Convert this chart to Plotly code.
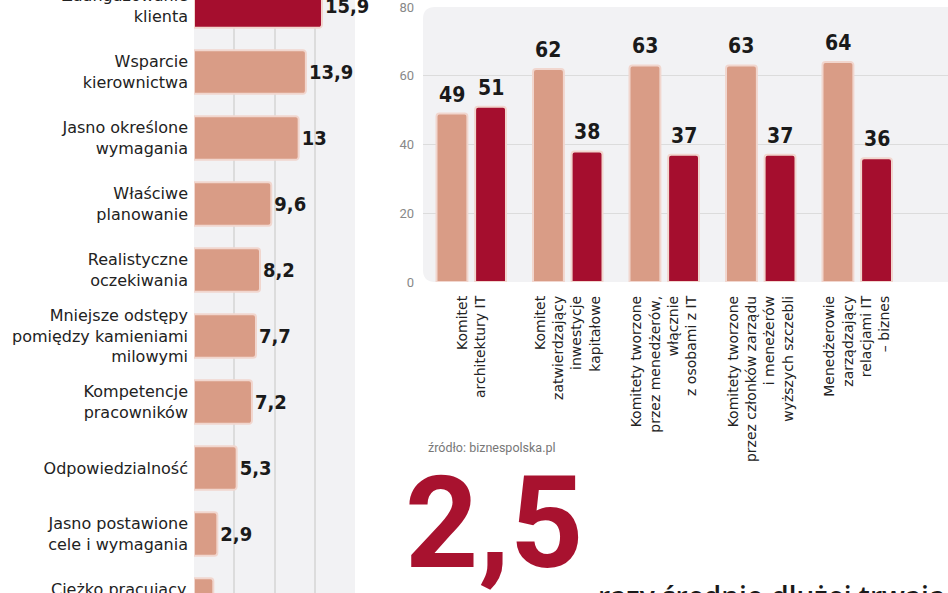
import plotly.graph_objects as go

# ---------------- data ----------------
left_labels = [
    "Zaangażowanie<br>klienta",
    "Wsparcie<br>kierownictwa",
    "Jasno określone<br>wymagania",
    "Właściwe<br>planowanie",
    "Realistyczne<br>oczekiwania",
    "Mniejsze odstępy<br>pomiędzy kamieniami<br>milowymi",
    "Kompetencje<br>pracowników",
    "Odpowiedzialność",
    "Jasno postawione<br>cele i wymagania",
    "Ciężko pracujący<br>zespół",
]
left_values = [15.9, 13.9, 13, 9.6, 8.2, 7.7, 7.2, 5.3, 2.9, 2.4]

right_categories = [
    "Komitet<br>architektury IT",
    "Komitet<br>zatwierdzający<br>inwestycje<br>kapitałowe",
    "Komitety tworzone<br>przez menedżerów,<br>włącznie<br>z osobami z IT",
    "Komitety tworzone<br>przez członków zarządu<br>i menеżerów<br>wyższych szczebli",
    "Menedżerowie<br>zarządzający<br>relacjami IT<br>– biznes",
]
series_a = [49, 62, 63, 63, 64]
series_b = [51, 38, 37, 37, 36]
right_ticks = [0, 20, 40, 60, 80]

source_text = "źródło: biznespolska.pl"
big_number = "2,5"
bottom_text = "razy średnio dłużej trwają projekty"

# ---------------- style ----------------
W, H = 948, 593
LIGHT = "#d99c86"
DARK = "#a50e2e"
EDGE = "#f1d6ce"
PANEL = "#f2f2f4"
VAL_FONT = "DejaVu Sans Condensed, Roboto"
LBL_FONT = "DejaVu Sans"

def fmt(v):
    return f"{v:g}".replace(".", ",")

left_idx = list(range(len(left_values)))
left_colors = [DARK] + [LIGHT] * (len(left_values) - 1)
n_shown = len(left_values) - 1  # last row lies below the visible area

fig = go.Figure()

fig.add_trace(go.Bar(
    x=left_values, y=left_idx, orientation="h", width=0.66,
    marker=dict(color=left_colors, line=dict(color=EDGE, width=2), cornerradius=3),
    text=[fmt(v) for v in left_values[:n_shown]] + [""], textposition="outside",
    textfont=dict(family=VAL_FONT, size=20, color="#1a1a1a", weight="bold"),
    constraintext="none", cliponaxis=False,
    xaxis="x", yaxis="y", showlegend=False, hoverinfo="skip",
))

right_idx = list(range(len(right_categories)))
fig.add_trace(go.Bar(
    x=right_idx, y=series_a,
    marker=dict(color=LIGHT, line=dict(color=EDGE, width=2), cornerradius=3),
    xaxis="x2", yaxis="y2", showlegend=False, hoverinfo="skip",
))
fig.add_trace(go.Bar(
    x=right_idx, y=series_b,
    marker=dict(color=DARK, line=dict(color=EDGE, width=2), cornerradius=3),
    xaxis="x2", yaxis="y2", showlegend=False, hoverinfo="skip",
))

annotations = []
for i, (a, b) in enumerate(zip(series_a, series_b)):
    for v, dx in ((a, -19.3), (b, 19.3)):
        annotations.append(dict(
            x=i, y=v, xref="x2", yref="y2", xshift=dx, yshift=5,
            text=str(v), showarrow=False, yanchor="bottom", xanchor="center",
            font=dict(family=VAL_FONT, size=21, color="#1a1a1a", weight="bold"),
        ))

# last (cut) left row: its centre lies just below the canvas
y_last_px = 6 + 66 * left_idx[-1]
annotations.append(dict(
    x=0, y=(H - y_last_px) / H, xref="x", yref="paper", xanchor="right", yanchor="middle",
    xshift=-5, text=left_labels[-1], showarrow=False, align="right",
    font=dict(family=LBL_FONT, size=16, color="#222"),
))
annotations.append(dict(
    x=left_values[-1], y=(H - y_last_px) / H, xref="x", yref="paper",
    xanchor="left", yanchor="middle", xshift=3, text=fmt(left_values[-1]),
    showarrow=False,
    font=dict(family=VAL_FONT, size=20, color="#1a1a1a", weight="bold"),
))

annotations.append(dict(
    x=426 / W, y=(H - 447) / H, xref="paper", yref="paper",
    xanchor="left", yanchor="middle", text=source_text, showarrow=False,
    font=dict(family="Roboto", size=12.5, color="#777"),
))
annotations.append(dict(
    x=403 / W, y=(H - 446) / H, xref="paper", yref="paper",
    xanchor="left", yanchor="top", text=big_number, showarrow=False,
    font=dict(family="Roboto", size=128, color="#a8122f", weight="bold"),
))
annotations.append(dict(
    x=596 / W, y=(H - 575) / H, xref="paper", yref="paper",
    xanchor="left", yanchor="top", text=bottom_text, showarrow=False,
    font=dict(family="Open Sans", size=28, color="#1a1a1a", weight=600),
))

x2_unit = 96.5
x2_range = [-0.5, -0.5 + (W - 423) / x2_unit]
rx, ry = 12 / x2_unit, 3.5
panel_path = (
    f"M {-0.5 + rx},0 L 6,0 L 6,80 L {-0.5 + rx},80 "
    f"Q -0.5,80 -0.5,{80 - ry} L -0.5,{ry} Q -0.5,0 {-0.5 + rx},0 Z"
)

shapes = [
    dict(type="rect", xref="x", yref="paper", x0=0, x1=20, y0=0, y1=1,
         fillcolor=PANEL, line=dict(width=0), layer="below"),
    dict(type="path", xref="x2", yref="y2", path=panel_path,
         fillcolor=PANEL, line=dict(width=0), layer="below"),
]

fig.update_layout(
    width=W, height=H, margin=dict(l=0, r=0, t=0, b=0, autoexpand=False),
    paper_bgcolor="white", plot_bgcolor="rgba(0,0,0,0)",
    barmode="group", bargap=0.2, bargroupgap=0.2,
    annotations=annotations, shapes=shapes,
    xaxis=dict(domain=[194 / W, 355 / W], range=[0, 20], tickvals=[5, 10, 15],
               showticklabels=False, showgrid=True, gridcolor="#dcdcdc", gridwidth=1.5,
               zeroline=False, showline=False, ticks="", automargin=False),
    yaxis=dict(domain=[0, 1], range=[(H - 6) / 66, -6 / 66],
               tickvals=left_idx[:n_shown], ticktext=left_labels[:n_shown],
               tickfont=dict(family=LBL_FONT, size=16, color="#222"),
               showgrid=False, zeroline=False, showline=False, ticks="",
               ticklabelstandoff=5, automargin=False, ticklabeloverflow="allow"),
    xaxis2=dict(domain=[423 / W, 1], range=x2_range, anchor="y2",
                tickvals=right_idx, ticktext=right_categories, tickangle=-90,
                tickfont=dict(family=LBL_FONT, size=14, color="#222"),
                showgrid=False, zeroline=False, showline=False, ticks="",
                ticklabelstandoff=10, automargin=False, ticklabeloverflow="allow"),
    yaxis2=dict(domain=[(H - 282) / H, (H - 7) / H], range=[0, 80], anchor="x2",
                tickvals=right_ticks, showgrid=True, gridcolor="#dcdcdc", gridwidth=1,
                tickfont=dict(family="Roboto", size=13, color="#888"),
                zeroline=False, showline=False, ticks="", ticklabelstandoff=8,
                automargin=False, ticklabeloverflow="allow"),
)

fig.write_html(
    "out.html",
    config={"displayModeBar": False},
    post_script="document.body.style.margin='0';document.body.style.overflow='hidden';",
)
